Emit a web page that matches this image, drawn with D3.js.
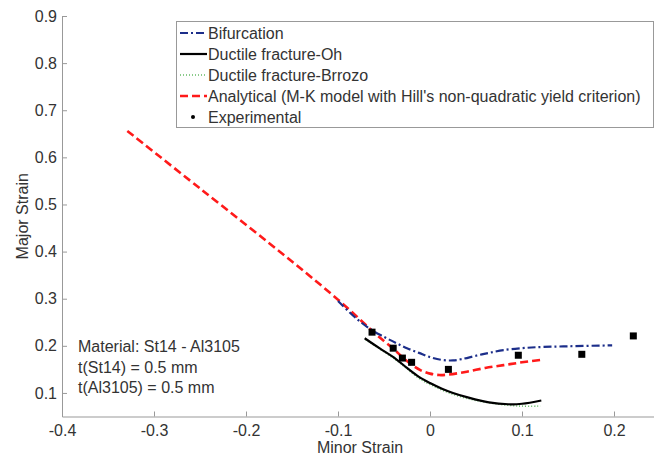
<!DOCTYPE html>
<html>
<head>
<meta charset="utf-8">
<script src="https://cdn.jsdelivr.net/npm/d3@7/dist/d3.min.js"></script>
<style>
  body { margin: 0; background: #fff; }
  svg text { font-family: "Liberation Sans", Arial, sans-serif; fill: #333; }
</style>
</head>
<body>
<div id="chart"></div>
<script>
// series: [minor strain, major strain]
const bifurcation = [[-0.1,0.295],[-0.08,0.258],[-0.063,0.233],[-0.05,0.219],[-0.037,0.206],[-0.025,0.195],
  [-0.012,0.185],[0,0.176],[0.013,0.170],[0.025,0.169],[0.035,0.172],[0.05,0.179],[0.064,0.185],[0.08,0.191],
  [0.1,0.195],[0.115,0.197],[0.15,0.199],[0.198,0.201]];
const ductileOh = [[-0.071,0.216],[-0.055,0.195],[-0.037,0.172],[-0.025,0.153],[-0.012,0.134],[0,0.121],
  [0.013,0.109],[0.025,0.100],[0.042,0.090],[0.064,0.080],[0.085,0.076],[0.1,0.077],[0.121,0.084]];
const ductileBrrozo = [[-0.07,0.213],[-0.037,0.170],[-0.012,0.131],[0,0.118],[0.025,0.097],[0.05,0.084],
  [0.075,0.076],[0.09,0.073],[0.1,0.072],[0.12,0.072]];
const analytical = [[-0.329,0.656],[-0.25,0.534],[-0.15,0.379],[-0.1,0.298],[-0.08,0.263],[-0.063,0.232],
  [-0.05,0.21],[-0.04,0.194],[-0.03,0.176],[-0.02,0.16],[-0.01,0.148],[0,0.141],[0.01,0.138],[0.02,0.139],
  [0.04,0.145],[0.06,0.153],[0.08,0.159],[0.1,0.165],[0.12,0.170]];
const experimental = [[-0.063,0.229],[-0.040,0.195],[-0.030,0.174],[-0.020,0.165],[0.020,0.150],
  [0.096,0.180],[0.165,0.182],[0.221,0.221]];

const xTicks = [-0.4, -0.3, -0.2, -0.1, 0, 0.1, 0.2];
const yTicks = [0.1, 0.2, 0.3, 0.4, 0.5, 0.6, 0.7, 0.8, 0.9];
const legendLabels = ["Bifurcation", "Ductile fracture-Oh", "Ductile fracture-Brrozo",
  "Analytical (M-K model with Hill's non-quadratic yield criterion)", "Experimental"];
const noteLines = ["Material: St14 - Al3105", "t(St14) = 0.5 mm", "t(Al3105) = 0.5 mm"];

const width = 654, height = 456, fontSize = 16;

const x = d3.scaleLinear().domain([-0.4, 0.3]).range([62, 706]);
const y = d3.scaleLinear().domain([0.05, 0.9]).range([416.5, 16]);

// MATLAB-like labels: plain hyphen minus, bare "0"
const fmt = d => d === 0 ? "0" : d3.format(".1f")(d).replace("\u2212", "-");

const svg = d3.select("#chart").append("svg")
  .attr("width", width)
  .attr("height", height)
  .attr("viewBox", [0, 0, width, height]);

// axes (ticks pointing inward)
svg.append("g")
  .attr("transform", `translate(0,${y(0.05)})`)
  .call(d3.axisBottom(x).tickValues(xTicks).tickSize(-5).tickSizeOuter(0).tickPadding(8).tickFormat(fmt))
  .call(g => g.select(".domain").attr("stroke", "#999"))
  .call(g => g.selectAll(".tick line").attr("stroke", "#999"))
  .call(g => g.selectAll("text").attr("font-size", fontSize).attr("fill", "#333"));

svg.append("g")
  .attr("transform", `translate(${x(-0.4)},0)`)
  .call(d3.axisLeft(y).tickValues(yTicks).tickSize(-5).tickSizeOuter(0).tickPadding(5).tickFormat(fmt))
  .call(g => g.select(".domain").attr("stroke", "#999"))
  .call(g => g.selectAll(".tick line").attr("stroke", "#999"))
  .call(g => g.selectAll("text").attr("font-size", fontSize).attr("fill", "#333"));

svg.append("text")
  .attr("x", 360).attr("y", 453)
  .attr("text-anchor", "middle").attr("font-size", fontSize)
  .text("Minor Strain");

svg.append("text")
  .attr("transform", `translate(28,${(y(0.05) + y(0.9)) / 2}) rotate(-90)`)
  .attr("text-anchor", "middle").attr("font-size", fontSize)
  .text("Major Strain");

// curves
const line = d3.line().x(d => x(d[0])).y(d => y(d[1])).curve(d3.curveCatmullRom);

const styles = [
  { data: bifurcation, stroke: "#1c2e8a", width: 2.2, dash: "8,3,2,3" },
  { data: ductileOh, stroke: "#000", width: 2.2, dash: null },
  { data: ductileBrrozo, stroke: "#66bb66", width: 1.6, dash: "1,2" },
  { data: analytical, stroke: "#ff1a1a", width: 2.6, dash: "8,4" }
];

// draw order: analytical, bifurcation, brrozo, oh
[3, 0, 2, 1].forEach(i => {
  const s = styles[i];
  svg.append("path")
    .attr("d", line(s.data))
    .attr("fill", "none")
    .attr("stroke", s.stroke)
    .attr("stroke-width", s.width)
    .attr("stroke-dasharray", s.dash);
});

svg.append("g")
  .selectAll("rect")
  .data(experimental)
  .join("rect")
  .attr("x", d => x(d[0]) - 3.5)
  .attr("y", d => y(d[1]) - 3.5)
  .attr("width", 7)
  .attr("height", 7)
  .attr("fill", "#000");

// note text
svg.append("g")
  .selectAll("text")
  .data(noteLines)
  .join("text")
  .attr("x", 78)
  .attr("y", (d, i) => 352 + i * 20.5)
  .attr("font-size", fontSize)
  .text(d => d);

// legend
const legend = svg.append("g");
legend.append("rect")
  .attr("x", 176.5).attr("y", 21.5)
  .attr("width", 477).attr("height", 106)
  .attr("fill", "#fff").attr("stroke", "#999");

const rows = legend.selectAll("g")
  .data(legendLabels)
  .join("g")
  .attr("transform", (d, i) => `translate(0,${33 + i * 21})`);

rows.each(function (d, i) {
  const g = d3.select(this);
  if (i < 4) {
    const s = styles[i];
    g.append("line")
      .attr("x1", 180).attr("x2", 207)
      .attr("stroke", s.stroke)
      .attr("stroke-width", s.width)
      .attr("stroke-dasharray", s.dash);
  } else {
    g.append("circle").attr("cx", 193).attr("r", 2).attr("fill", "#000");
  }
  g.append("text")
    .attr("x", 208).attr("dy", "0.35em")
    .attr("font-size", fontSize)
    .text(d);
});
</script>
</body>
</html>
